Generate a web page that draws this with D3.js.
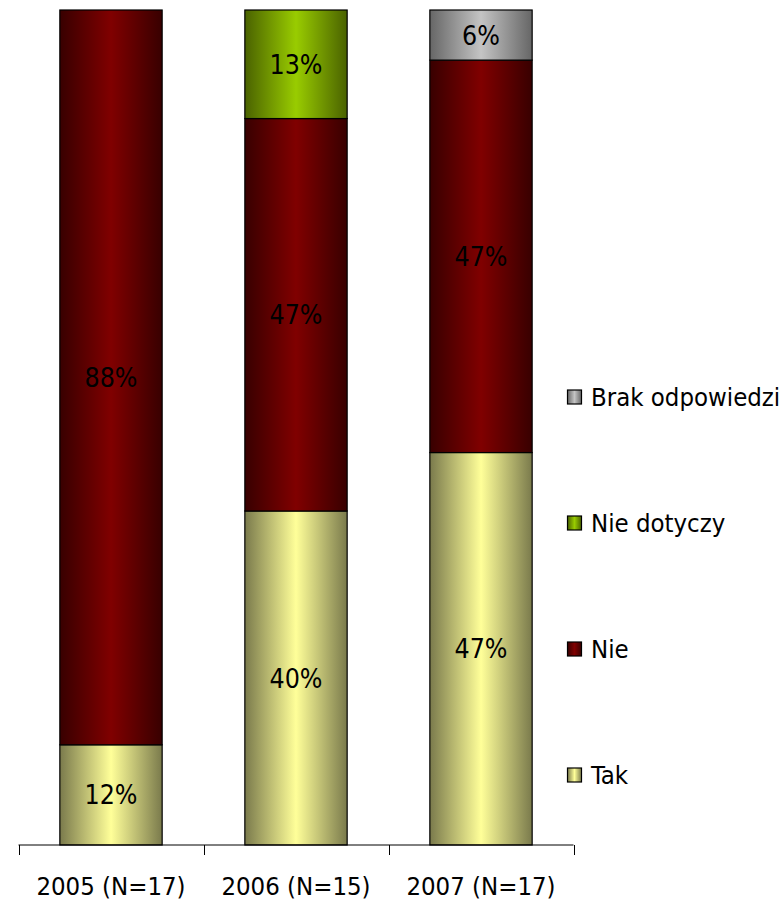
<!DOCTYPE html>
<html>
<head>
<meta charset="utf-8">
<script src="https://cdn.jsdelivr.net/npm/d3@7"></script>
<style>
  html, body { margin: 0; padding: 0; background: #fff; }
  svg { display: block; }
  text { font-family: "DejaVu Sans Condensed", "DejaVu Sans", Tahoma, sans-serif; fill: #000; }
</style>
</head>
<body>
<svg id="chart" width="784" height="901"></svg>
<script>
// Survey answers per year, in percent
const categories = ["2005 (N=17)", "2006 (N=15)", "2007 (N=17)"];
const tak        = [12, 40, 47];
const nie        = [88, 47, 47];
const nieDotyczy = [0, 13, 0];
const brak       = [0, 0, 6];

// Stack order bottom -> top
const seriesNames = ["Tak", "Nie", "Nie dotyczy", "Brak odpowiedzi"];
const seriesValues = [tak, nie, nieDotyczy, brak];

// Each series: edge colour and centre colour of a horizontal gradient
const seriesColors = {
  "Tak":             { edge: "#7a7a4c", mid: "#ffff99" },
  "Nie":             { edge: "#380000", mid: "#800000" },
  "Nie dotyczy":     { edge: "#4a6200", mid: "#99cc00" },
  "Brak odpowiedzi": { edge: "#666666", mid: "#c4c4c4" }
};

const svg = d3.select("#chart");

const defs = svg.append("defs");
seriesNames.forEach((name, i) => {
  const c = seriesColors[name];
  const g = defs.append("linearGradient")
    .attr("id", "grad" + i)
    .attr("x1", "0%").attr("x2", "100%").attr("y1", "0%").attr("y2", "0%");
  g.append("stop").attr("offset", "0%").attr("stop-color", c.edge);
  g.append("stop").attr("offset", "50%").attr("stop-color", c.mid);
  g.append("stop").attr("offset", "100%").attr("stop-color", c.edge);
});

const axisLeft = 18.5, axisRight = 573.5, baseY = 845, topY = 10;

const x = d3.scaleBand().domain(categories).range([axisLeft, axisRight]).padding(0);
const y = d3.scaleLinear().domain([0, 100]).range([baseY, topY]);
const barW = x.bandwidth() * 0.553;

// Build stacked table
const table = categories.map((c, i) => {
  const row = { cat: c };
  seriesNames.forEach((s, k) => row[s] = seriesValues[k][i]);
  return row;
});
const stacked = d3.stack().keys(seriesNames)(table);

const layers = svg.append("g").selectAll("g")
  .data(stacked)
  .join("g")
  .attr("fill", (d, i) => `url(#grad${i})`);

layers.selectAll("rect")
  .data(d => d.filter(p => p[1] - p[0] > 0))
  .join("rect")
  .attr("x", p => x(p.data.cat) + (x.bandwidth() - barW) / 2)
  .attr("y", p => y(p[1]))
  .attr("width", barW)
  .attr("height", p => y(p[0]) - y(p[1]))
  .attr("stroke", "#000")
  .attr("stroke-width", 1.2);

// Value labels centred in each segment
layers.selectAll("text")
  .data(d => d.filter(p => p[1] - p[0] > 0))
  .join("text")
  .attr("x", p => x(p.data.cat) + x.bandwidth() / 2)
  .attr("y", p => (y(p[0]) + y(p[1])) / 2)
  .attr("text-anchor", "middle")
  .attr("dominant-baseline", "central")
  .attr("font-size", 26.5)
  .style("fill", "#000")
  .text(p => (p[1] - p[0]) + "%");

// Category axis with ticks at band boundaries
const axisG = svg.append("g").attr("transform", `translate(0,${baseY})`);
axisG.append("line")
  .attr("x1", axisLeft).attr("x2", axisRight)
  .attr("y1", 0).attr("y2", 0)
  .attr("stroke", "#000").attr("stroke-width", 1);
const bounds = categories.map(c => x(c)).concat([x.range()[1]]);
axisG.selectAll("line.tick")
  .data(bounds)
  .join("line")
  .attr("class", "tick")
  .attr("x1", d => Math.round(d) + 0.5).attr("x2", d => Math.round(d) + 0.5)
  .attr("y1", 0).attr("y2", 10)
  .attr("stroke", "#000").attr("stroke-width", 1);

const labelAxis = d3.axisBottom(x).tickSize(0).tickPadding(0);
const lab = svg.append("g").attr("transform", `translate(0,${baseY})`).call(labelAxis);
lab.select(".domain").remove();
lab.selectAll("text")
  .attr("y", 50)
  .attr("dy", 0)
  .attr("font-size", 25.5)
  .style("font-family", '"DejaVu Sans Condensed", "DejaVu Sans", Tahoma, sans-serif')
  .style("fill", "#000");

// Legend (top entry is the top of the stack)
const legendOrder = seriesNames.slice().reverse();
const legendY = d3.scalePoint().domain(legendOrder).range([397, 775]);
const legend = svg.append("g").selectAll("g")
  .data(legendOrder)
  .join("g")
  .attr("transform", d => `translate(567,${legendY(d)})`);
legend.append("rect")
  .attr("x", 0.5).attr("y", -7)
  .attr("width", 14).attr("height", 14)
  .attr("fill", d => `url(#grad${seriesNames.indexOf(d)})`)
  .attr("stroke", "#000").attr("stroke-width", 1.2);
legend.append("text")
  .attr("x", 24)
  .attr("y", 0)
  .attr("dominant-baseline", "central")
  .attr("font-size", 25.5)
  .text(d => d);
</script>
</body>
</html>
